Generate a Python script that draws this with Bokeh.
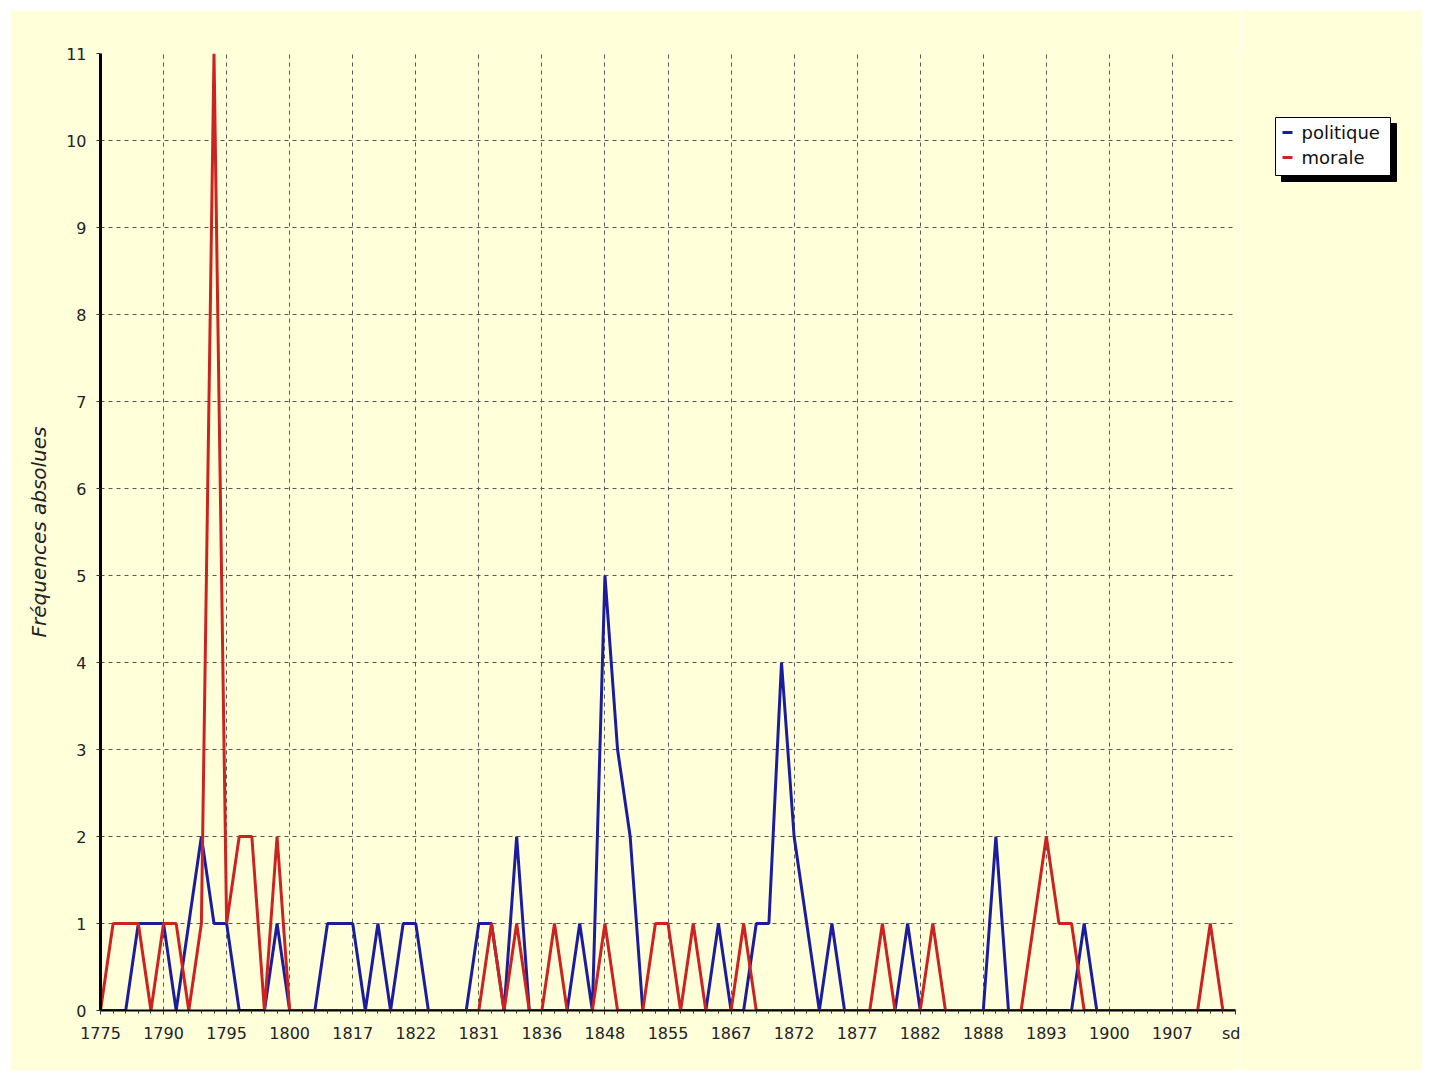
from bokeh.plotting import figure
from bokeh.models import Range1d, FixedTicker
from bokeh.layouts import row
from bokeh.core.properties import value
from bokeh.embed import file_html
from bokeh.resources import INLINE

tick_labels = ["1775", "1790", "1795", "1800", "1817", "1822", "1831", "1836", "1848",
               "1855", "1867", "1872", "1877", "1882", "1888", "1893", "1900", "1907", "sd"]
per_label = 5

series_names = ["politique", "morale"]
series_colors = ["#1C1C9E", "#CC2222"]

politique = [0, 0, 0, 1, 1, 1, 0, 1, 2, 1, 1, 0, 0, 0, 1, 0, 0, 0, 1, 1,
             1, 0, 1, 0, 1, 1, 0, 0, 0, 0, 1, 1, 0, 2, 0, 0, 0, 0, 1, 0,
             5, 3, 2, 0, 0, 0, 0, 0, 0, 1, 0, 0, 1, 1, 4, 2, 1, 0, 1, 0,
             0, 0, 0, 0, 1, 0, 0, 0, 0, 0, 0, 2, 0, 0, 0, 0, 0, 0, 1, 0,
             0, 0, 0, 0, 0, 0, 0, 0, 0, 0, 0]
morale = [0, 1, 1, 1, 0, 1, 1, 0, 1, 11, 1, 2, 2, 0, 2, 0, 0, 0, 0, 0,
          0, 0, 0, 0, 0, 0, 0, 0, 0, 0, 0, 1, 0, 1, 0, 0, 1, 0, 0, 0,
          1, 0, 0, 0, 1, 1, 0, 1, 0, 0, 0, 1, 0, 0, 0, 0, 0, 0, 0, 0,
          0, 0, 1, 0, 0, 0, 1, 0, 0, 0, 0, 0, 0, 0, 1, 2, 1, 1, 0, 0,
          0, 0, 0, 0, 0, 0, 0, 0, 1, 0, 0]

n = len(politique)
xs = list(range(n))
major = list(range(0, n, per_label))

BG = "#FFFFDA"
FONT = "DejaVu Sans"

p = figure(frame_width=1135, frame_height=957, output_backend="svg", toolbar_location=None,
           x_range=Range1d(0, n - 1), y_range=Range1d(0, 11),
           min_border_left=90, min_border_top=43, min_border_right=5, min_border_bottom=60)
p.background_fill_color = BG
p.border_fill_color = BG
p.outline_line_color = None

p.xaxis.ticker = FixedTicker(ticks=major, minor_ticks=xs)
p.xaxis.major_label_overrides = {t: lab for t, lab in zip(major, tick_labels)}
p.yaxis.ticker = FixedTicker(ticks=list(range(0, 12)))

for ax in (p.xaxis[0], p.yaxis[0]):
    ax.axis_line_color = "black"
    ax.axis_line_width = 2
    ax.major_tick_line_color = "#333333"
    ax.minor_tick_line_color = "#333333"
    ax.major_tick_in = 0
    ax.minor_tick_in = 0
    ax.major_tick_out = 4
    ax.minor_tick_out = 3
    ax.major_label_text_font = FONT
    ax.major_label_text_font_size = "16px"
    ax.major_label_text_color = "#222222"
p.yaxis.axis_line_width = 3
p.yaxis.minor_tick_line_color = None
p.xaxis.major_label_standoff = 9
p.yaxis.major_label_standoff = 10

p.yaxis.axis_label = "Fréquences absolues"
p.yaxis.axis_label_text_font = FONT
p.yaxis.axis_label_text_font_style = "italic"
p.yaxis.axis_label_text_font_size = "20px"
p.yaxis.axis_label_text_color = "#222222"
p.yaxis.axis_label_standoff = 12

for g in (p.xgrid[0], p.ygrid[0]):
    g.grid_line_color = "#555555"
    g.grid_line_dash = "4 4"
    g.grid_line_width = 1

for ys, col in zip([politique, morale], series_colors):
    p.line(xs, ys, line_color=col, line_width=3)

# legend panel drawn in a side figure whose data units are pixels
LW, LH = 182, 1060
q = figure(frame_width=LW, frame_height=LH, output_backend="svg", toolbar_location=None,
           x_range=Range1d(0, LW), y_range=Range1d(LH, 0),
           x_axis_type=None, y_axis_type=None, min_border=0)
q.background_fill_color = BG
q.border_fill_color = BG
q.outline_line_color = None
q.xgrid.visible = False
q.ygrid.visible = False

box_l, box_r, box_t, box_b = 35, 150, 64, 122
shadow = 6
q.quad(left=box_l + shadow, right=box_r + shadow, top=box_t + shadow, bottom=box_b + shadow,
       fill_color="black", line_color="black")
q.quad(left=box_l, right=box_r, top=box_t, bottom=box_b,
       fill_color="white", line_color="black", line_width=1)
row_y = [box_t + 15, box_t + 40]
for name, col, yy in zip(series_names, series_colors, row_y):
    q.segment(x0=box_l + 7, x1=box_l + 17, y0=yy, y1=yy, line_color=col, line_width=3)
    q.text(x=box_l + 26, y=yy, text=value(name), text_font=value(FONT),
           text_font_size="18px", text_baseline="middle", text_align="left",
           text_color="#111111")

layout = row(p, q, margin=(10, 0, 0, 10))
open("out.html", "w").write(file_html(layout, INLINE))
